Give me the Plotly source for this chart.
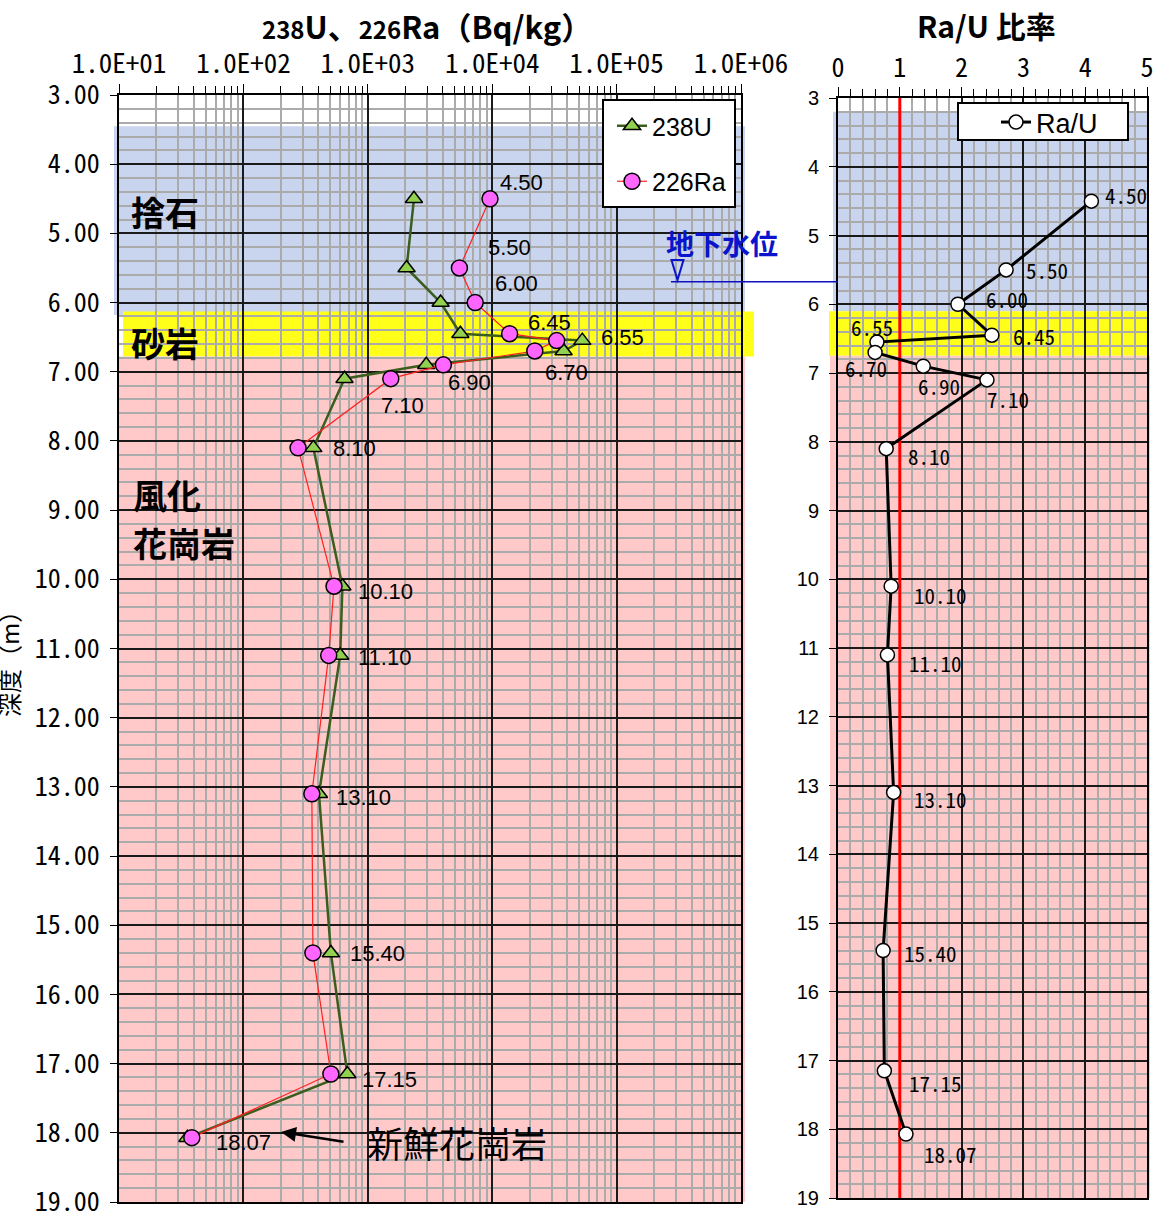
import math
import plotly.graph_objects as go

# ---- measured data -------------------------------------------------------
depth = [4.50, 5.50, 6.00, 6.45, 6.55, 6.70, 6.90, 7.10, 8.10,
         10.10, 11.10, 13.10, 15.40, 17.15, 18.07]
u238 = [2350, 2050, 3850, 5550, 53000, 37500, 2950, 650, 365,
        625, 600, 405, 505, 685, 35.5]
ra226 = [9600, 5450, 7300, 13800, 33000, 22000, 4050, 1530, 275,
         535, 485, 355, 362, 505, 38.5]
ra_u_ratio = [4.10, 2.72, 1.94, 2.49, 0.63, 0.60, 1.38, 2.41, 0.78,
              0.86, 0.80, 0.90, 0.73, 0.75, 1.10]

conc_tickvals = [1e1, 1e2, 1e3, 1e4, 1e5, 1e6]
conc_ticktext = ["1.0E+01", "1.0E+02", "1.0E+03", "1.0E+04", "1.0E+05", "1.0E+06"]

# Ra/U = 1 (radioactive equilibrium) reference line over the full depth range
equilibrium_ratio = [1, 1]
equilibrium_depth = [3, 19]

# geological layers: (name, top depth, bottom depth, colour)
layers = [
    ("捨石", 3.45, 6.18, "#c9d5ee"),
    ("砂岩", 6.13, 6.78, "#ffff1a"),
    ("風化花崗岩", 6.78, 19.0, "#ffc9c9"),
]
layers_ratio = [
    (3.20, 6.10, "#c9d5ee"),
    (6.10, 6.75, "#ffff1a"),
    (6.75, 19.0, "#ffc9c9"),
]
groundwater_depth = 5.7

# depth-label offsets (px, right/down) next to each sample
conc_label_offsets = [(32, -16), (50, -20), (41, -19), (40, -11), (40, -3),
                      (3, 22), (26, 18), (12, 27), (41, 1), (43, 5), (44, 2),
                      (45, 4), (47, 1), (42, 5), (52, 5)]
ratio_label_offsets = [(35, -6), (41, 0), (49, -5), (42, 1), (-5, -15),
                       (-9, 16), (16, 20), (21, 19), (43, 7), (49, 9), (48, 8),
                       (47, 7), (47, 2), (51, 12), (45, 20)]

# ---- page geometry ---------------------------------------------------------
W, H = 1156, 1213


def fx(p):
    return p / W


def fy(p):
    return 1 - p / H


CJK = "Noto Sans CJK JP"
MONO = "Noto Sans Mono CJK JP, DejaVu Sans Mono, monospace"
NARROW = "Liberation Sans Narrow, Liberation Sans, Arial, sans-serif"
SANS = "Liberation Sans, Arial, sans-serif"
BLUE = "#0a14cc"

fig = go.Figure()

fig.add_trace(go.Scatter(
    x=u238, y=depth, name="238U", mode="lines+markers",
    line=dict(color="#3b5d1e", width=2.5),
    marker=dict(symbol="triangle-up", size=15, color="#92d050",
                line=dict(color="black", width=1.5)),
    xaxis="x", yaxis="y", legend="legend", legendgroup="u"))
fig.add_trace(go.Scatter(
    x=ra226, y=depth, name="226Ra", mode="lines+markers",
    line=dict(color="#ff2020", width=1.2),
    marker=dict(symbol="circle", size=16, color="#ff66ff",
                line=dict(color="black", width=1.5)),
    xaxis="x", yaxis="y", legend="legend", legendgroup="ra"))
fig.add_trace(go.Scatter(
    x=equilibrium_ratio, y=equilibrium_depth, mode="lines", showlegend=False,
    line=dict(color="#ff0000", width=3), hoverinfo="skip",
    xaxis="x2", yaxis="y2"))
fig.add_trace(go.Scatter(
    x=ra_u_ratio, y=depth, name="Ra/U", mode="lines+markers",
    line=dict(color="black", width=3),
    marker=dict(symbol="circle", size=14, color="white",
                line=dict(color="black", width=1.5)),
    xaxis="x2", yaxis="y2", legend="legend2"))

shapes = []
# layer bands behind the grid
band_x = {"捨石": (114, 745), "砂岩": (123, 754), "風化花崗岩": (117, 745)}
for name, top, bot, col in layers:
    x0, x1 = band_x[name]
    shapes.append(dict(type="rect", xref="paper", yref="y", x0=fx(x0), x1=fx(x1),
                       y0=top, y1=bot, fillcolor=col, line=dict(width=0), layer="below"))
ratio_band_x = [(833, 1148), (829, 1149), (830, 1150)]
for (top, bot, col), (x0, x1) in zip(layers_ratio, ratio_band_x):
    shapes.append(dict(type="rect", xref="paper", yref="y2", x0=fx(x0), x1=fx(x1),
                       y0=top, y1=bot, fillcolor=col, line=dict(width=0), layer="below"))

# groundwater level line and its ▽ marker
shapes.append(dict(type="line", xref="paper", yref="y", x0=fx(671), x1=fx(838),
                   y0=groundwater_depth, y1=groundwater_depth,
                   line=dict(color="#1010c0", width=1.5), layer="above"))
shapes.append(dict(type="path", xref="paper", yref="paper",
                   path=f"M{fx(671.5)},{fy(260)} L{fx(683.5)},{fy(260)} L{fx(677.5)},{fy(280)} Z",
                   line=dict(color=BLUE, width=2), fillcolor="rgba(0,0,0,0)", layer="above"))
# legend frames
shapes.append(dict(type="rect", xref="paper", yref="paper", x0=fx(603), x1=fx(735),
                   y0=fy(207), y1=fy(100), fillcolor="white",
                   line=dict(color="black", width=2), layer="above"))
shapes.append(dict(type="rect", xref="paper", yref="paper", x0=fx(958), x1=fx(1128),
                   y0=fy(140), y1=fy(103), fillcolor="white",
                   line=dict(color="black", width=2), layer="above"))

annotations = []
# titles
annotations.append(dict(
    xref="paper", yref="paper", x=fx(427), y=fy(25), showarrow=False,
    text="<b><span style='font-size:24px'>238</span>U、<span style='font-size:24px'>226</span>Ra（Bq/kg）</b>",
    font=dict(family=CJK, size=31, color="black"), xanchor="center", yanchor="middle"))
annotations.append(dict(
    xref="paper", yref="paper", x=fx(986), y=fy(25), showarrow=False,
    text="<b>Ra/U 比率</b>", font=dict(family=CJK, size=30, color="black"),
    xanchor="center", yanchor="middle"))
annotations.append(dict(
    xref="paper", yref="paper", x=fx(8), y=fy(658), showarrow=False,
    text="深度（m）", textangle=-90, font=dict(family=CJK, size=24, color="black"),
    xanchor="center", yanchor="middle"))

# layer names
for txt, xp, yp in [("捨石", 129, 212), ("砂岩", 129, 342), ("風化", 131, 494), ("花崗岩", 131, 542)]:
    annotations.append(dict(xref="paper", yref="paper", x=fx(xp), y=fy(yp), showarrow=False,
                            text="<b>" + txt + "</b>", font=dict(family=CJK, size=34, color="black"),
                            xanchor="left", yanchor="middle"))

# fresh granite note with arrow
annotations.append(dict(xref="paper", yref="paper", x=fx(457), y=fy(1142), showarrow=False,
                        text="新鮮花崗岩", font=dict(family=CJK, size=36, color="black"),
                        xanchor="center", yanchor="middle"))
annotations.append(dict(xref="paper", yref="paper", x=fx(281), y=fy(1132), text="",
                        showarrow=True, axref="pixel", ayref="pixel", ax=64, ay=10,
                        arrowhead=2, arrowsize=1.2, arrowwidth=2.5, arrowcolor="black"))

# groundwater label
annotations.append(dict(xref="paper", yref="paper", x=fx(722), y=fy(243), showarrow=False,
                        text="<b>地下水位</b>", font=dict(family=CJK, size=28, color=BLUE),
                        xanchor="center", yanchor="middle"))

# depth labels beside the samples
for d, u, r, (dx, dy) in zip(depth, u238, ra226, conc_label_offsets):
    annotations.append(dict(xref="x", yref="y", x=math.log10(max(u, r)), y=d,
                            text=f"{d:.2f}", showarrow=False,
                            font=dict(family=SANS, size=22, color="black"),
                            xanchor="center", yanchor="middle", xshift=dx, yshift=-dy))
for d, q, (dx, dy) in zip(depth, ra_u_ratio, ratio_label_offsets):
    annotations.append(dict(xref="x2", yref="y2", x=q, y=d,
                            text=f"{d:.2f}", showarrow=False,
                            font=dict(family=MONO, size=21, color="black"),
                            xanchor="center", yanchor="middle", xshift=dx, yshift=-dy))

minor_log = [m * 10 ** k for k in range(1, 6) for m in range(2, 10)]

axis_common = dict(showline=True, linecolor="black", linewidth=2, mirror=True,
                   showgrid=True, gridcolor="#1a1a1a", gridwidth=1.5,
                   ticks="outside", tickcolor="black", zeroline=False,
                   automargin=False, ticklabeloverflow="allow")

fig.update_layout(
    width=W, height=H,
    margin=dict(l=0, r=0, t=0, b=0, pad=0),
    paper_bgcolor="white", plot_bgcolor="rgba(0,0,0,0)",
    showlegend=True,
    xaxis=dict(axis_common, type="log", range=[1, 6], domain=[fx(119), fx(741)],
               anchor="y", side="top", tickmode="array", tickvals=conc_tickvals,
               ticktext=conc_ticktext, ticklen=9, ticklabelstandoff=0,
               tickfont=dict(family=MONO, size=27, color="black"),
               minor=dict(tickmode="array", tickvals=minor_log, showgrid=True,
                          gridcolor="#ababab", gridwidth=2, ticks="outside",
                          ticklen=7, tickcolor="black")),
    yaxis=dict(axis_common, range=[19, 3], domain=[fy(1202), fy(95)], anchor="x",
               tick0=3, dtick=1, tickformat=".2f", ticklen=7, ticklabelstandoff=5,
               tickfont=dict(family=MONO, size=26, color="black"),
               minor=dict(dtick=0.2, tick0=3, showgrid=True, gridcolor="#ababab",
                          gridwidth=2)),
    xaxis2=dict(axis_common, range=[0, 5], domain=[fx(838), fx(1147)], anchor="y2",
                side="top", tick0=0, dtick=1, ticklen=9, ticklabelstandoff=0,
                tickfont=dict(family=MONO, size=26, color="black"),
                minor=dict(dtick=0.2, tick0=0, showgrid=True, gridcolor="#ababab",
                           gridwidth=2, ticks="outside", ticklen=7, tickcolor="black")),
    yaxis2=dict(axis_common, range=[19, 3], domain=[fy(1198), fy(98)], anchor="x2",
                tick0=3, dtick=1, ticklen=7, ticklabelstandoff=6,
                tickfont=dict(family=SANS, size=20, color="black"),
                minor=dict(dtick=0.2, tick0=3, showgrid=True, gridcolor="#ababab",
                           gridwidth=2)),
    legend=dict(x=fx(612), y=fy(103), xanchor="left", yanchor="top",
                bgcolor="rgba(0,0,0,0)", borderwidth=0, traceorder="grouped",
                tracegroupgap=20, font=dict(family=NARROW, size=25, color="black")),
    legend2=dict(x=fx(996), y=fy(98), xanchor="left", yanchor="top",
                 bgcolor="rgba(0,0,0,0)", borderwidth=0,
                 font=dict(family=NARROW, size=27, color="black")),
    shapes=shapes,
    annotations=annotations,
)

fig.write_html("out.html")
